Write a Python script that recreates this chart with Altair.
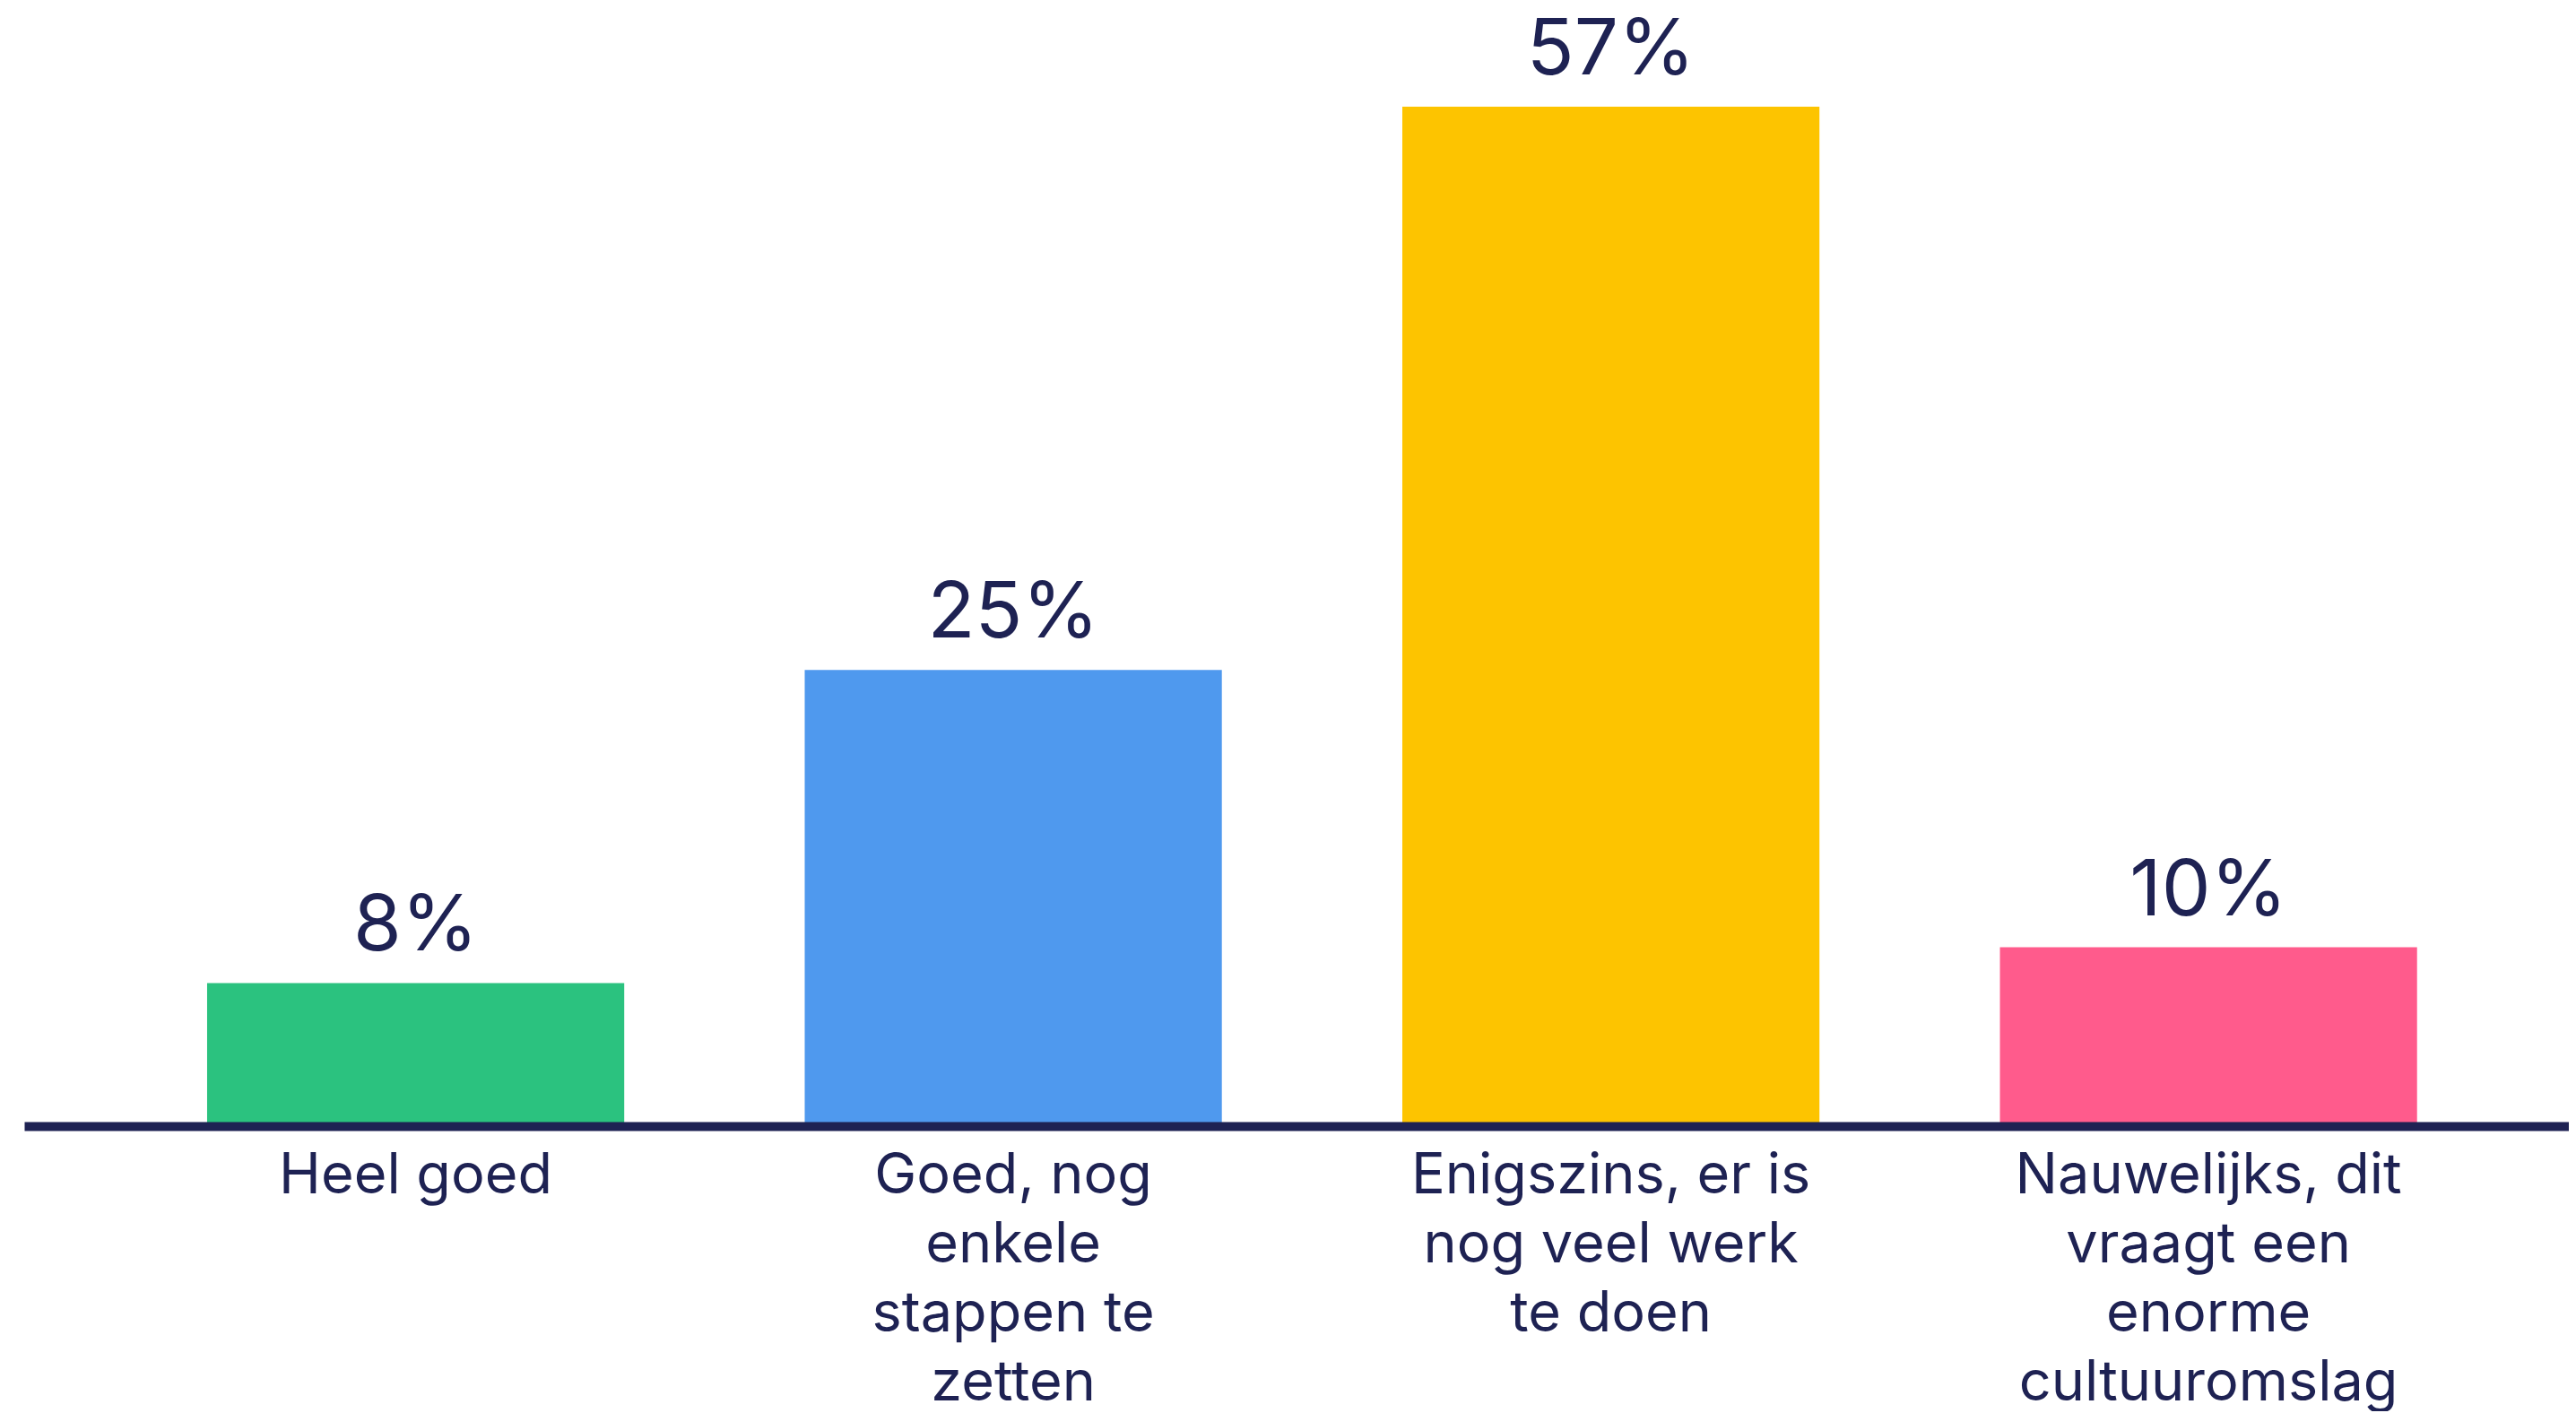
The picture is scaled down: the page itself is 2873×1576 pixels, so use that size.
import altair as alt
import pandas as pd

categories = [
    "Heel goed",
    "Goed, nog|enkele|stappen te|zetten",
    "Enigszins, er is|nog veel werk|te doen",
    "Nauwelijks, dit|vraagt een|enorme|cultuuromslag",
]
values = [8, 25.5, 57, 10]
labels = ["8%", "25%", "57%", "10%"]
colors = ["#2BC27F", "#4F99EE", "#FDC400", "#FF5B8C"]

NAVY = "#1E2253"
FONT = "Inter"

df = pd.DataFrame({"cat": categories, "val": values, "lab": labels, "col": colors})

x = alt.X(
    "cat:N",
    sort=categories,
    title=None,
    scale=alt.Scale(paddingInner=0.302, paddingOuter=0.28, align=0.5465),
    axis=alt.Axis(
        labelAngle=0,
        labelExpr="split(datum.label, '|')",
        labelFont=FONT,
        labelFontSize=63,
        labelColor=NAVY,
        labelLineHeight=77,
        labelPadding=24,
        ticks=False,
        domainColor=NAVY,
        domainWidth=10,
        labelLimit=0,
        zindex=1,
    ),
)
y = alt.Y("val:Q", title=None, scale=alt.Scale(domain=[0, 62.56], nice=False, zero=True), axis=None)

base = alt.Chart(df).encode(x=x, y=y)
bars = base.mark_bar().encode(color=alt.Color("col:N", scale=None))
text = base.mark_text(
    font=FONT, fontSize=87, color=NAVY, baseline="alphabetic", dy=-36
).encode(text="lab:N")

chart = (
    alt.layer(bars, text)
    .properties(
        width=2838,
        height=1248,
        padding={"left": 19, "top": 0, "right": 0, "bottom": 0},
        autosize=alt.AutoSizeParams(type="pad"),
    )
    .configure(background="white")
    .configure_view(stroke=None)
)

chart.save("out.html", embed_options={"renderer": "svg", "actions": False})
